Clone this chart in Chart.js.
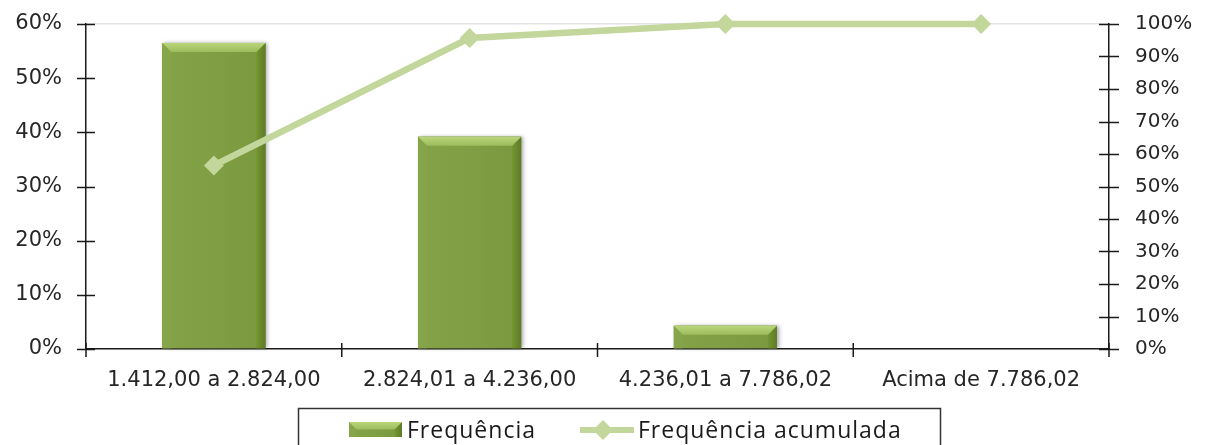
<!DOCTYPE html>
<html>
<head>
<meta charset="utf-8">
<script src="https://cdn.jsdelivr.net/npm/chart.js@4.4.1/dist/chart.umd.min.js"></script>
<style>
html, body { margin: 0; padding: 0; background: #fff; }
#wrap { width: 1213px; height: 445px; position: relative; }
</style>
</head>
<body>
<div id="wrap"><canvas id="chart"></canvas></div>
<script>
// chart data
var categories = ['1.412,00 a 2.824,00', '2.824,01 a 4.236,00', '4.236,01 a 7.786,02', 'Acima de 7.786,02'];
var frequencia = [56.5, 39.2, 4.3, 0];
var acumulada = [56.5, 95.7, 100, 100];
var seriesNames = ['Frequência', 'Frequência acumulada'];

var barColor = '#7f9d42';
var lineColor = '#c3d69b';
var axisColor = '#1a1a1a';
var textColor = '#262626';

// excel-ish bevelled bar
function drawBevelBar(ctx, x0, y0, x1, y1, shadow) {
    var w = x1 - x0, h = y1 - y0;
    if (w <= 0 || h <= 0) return;
    var b = Math.min(9, h / 2, w / 2);
    ctx.save();
    if (shadow) {
        ctx.shadowColor = 'rgba(0,0,0,0.35)';
        ctx.shadowBlur = 4;
        ctx.shadowOffsetX = 2;
        ctx.shadowOffsetY = 0;
    }
    var g = ctx.createLinearGradient(x0, 0, x1, 0);
    g.addColorStop(0, '#84a246');
    g.addColorStop(0.5, '#809e43');
    g.addColorStop(1, '#7a983e');
    ctx.fillStyle = g;
    ctx.fillRect(x0, y0, w, h);
    ctx.restore();

    ctx.save();
    // left bevel
    ctx.fillStyle = '#86a449';
    ctx.beginPath();
    ctx.moveTo(x0, y0); ctx.lineTo(x0 + b, y0 + b); ctx.lineTo(x0 + b, y1); ctx.lineTo(x0, y1);
    ctx.closePath(); ctx.fill();
    // right bevel
    var gr = ctx.createLinearGradient(x1 - b, 0, x1, 0);
    gr.addColorStop(0, '#76952f');
    gr.addColorStop(1, '#5e7b28');
    ctx.fillStyle = gr;
    ctx.beginPath();
    ctx.moveTo(x1, y0); ctx.lineTo(x1 - b, y0 + b); ctx.lineTo(x1 - b, y1); ctx.lineTo(x1, y1);
    ctx.closePath(); ctx.fill();
    // top bevel
    var gt = ctx.createLinearGradient(0, y0, 0, y0 + b);
    gt.addColorStop(0, '#b9d67a');
    gt.addColorStop(1, '#9dbc5c');
    ctx.fillStyle = gt;
    ctx.beginPath();
    ctx.moveTo(x0, y0); ctx.lineTo(x1, y0); ctx.lineTo(x1 - b, y0 + b); ctx.lineTo(x0 + b, y0 + b);
    ctx.closePath(); ctx.fill();
    ctx.restore();
}

var bevelPlugin = {
    id: 'bevel',
    afterDatasetDraw: function(chart, args) {
        if (args.index !== 0) return;
        var ctx = chart.ctx;
        args.meta.data.forEach(function(el) {
            var p = el.getProps(['x', 'y', 'base', 'width'], true);
            drawBevelBar(ctx, p.x - p.width / 2, p.y, p.x + p.width / 2, p.base, true);
        });
    }
};

// tick marks that cross the axis lines
var ticksPlugin = {
    id: 'crossTicks',
    afterDraw: function(chart) {
        var ctx = chart.ctx;
        var area = chart.chartArea;
        var y = chart.scales.y, y1 = chart.scales.y1;
        ctx.save();
        ctx.strokeStyle = axisColor;
        ctx.lineWidth = 1.5;
        ctx.beginPath();
        y.ticks.forEach(function(t) {
            var py = Math.round(y.getPixelForValue(t.value)) + 0.5;
            ctx.moveTo(area.left - 9, py); ctx.lineTo(area.left + 9, py);
        });
        y1.ticks.forEach(function(t) {
            var py = Math.round(y1.getPixelForValue(t.value)) + 0.5;
            ctx.moveTo(area.right - 10, py); ctx.lineTo(area.right + 10, py);
        });
        var n = categories.length;
        for (var i = 0; i <= n; i++) {
            var px = area.left + (area.right - area.left) * i / n;
            ctx.moveTo(px, area.bottom - 6); ctx.lineTo(px, area.bottom + 8);
        }
        ctx.stroke();
        ctx.restore();
    }
};

// boxed legend at the bottom
var legendPlugin = {
    id: 'boxLegend',
    afterDraw: function(chart) {
        var ctx = chart.ctx;
        var ds = chart.data.datasets;
        ctx.save();
        ctx.strokeStyle = '#333';
        ctx.lineWidth = 1.5;
        ctx.strokeRect(298.5, 408.5, 642, 50);

        drawBevelBar(ctx, 349, 422, 402, 437, false);

        ctx.font = '23px "Open Sans"';
        ctx.letterSpacing = '1px';
        ctx.fillStyle = '#1a1a1a';
        ctx.textBaseline = 'alphabetic';
        ctx.fillText(ds[0].label, 407, 438);

        ctx.strokeStyle = lineColor;
        ctx.lineWidth = 6;
        ctx.beginPath();
        ctx.moveTo(580, 430); ctx.lineTo(634, 430);
        ctx.stroke();
        ctx.fillStyle = lineColor;
        ctx.beginPath();
        ctx.moveTo(603, 420); ctx.lineTo(613, 430); ctx.lineTo(603, 440); ctx.lineTo(593, 430);
        ctx.closePath(); ctx.fill();

        ctx.fillStyle = '#1a1a1a';
        ctx.fillText(ds[1].label, 638, 438);
        ctx.restore();
    }
};

var ctx = document.getElementById('chart').getContext('2d');
var chart = new Chart(ctx, {
    type: 'bar',
    data: {
        labels: categories,
        datasets: [
            {
                type: 'bar',
                label: seriesNames[0],
                data: frequencia,
                yAxisID: 'y',
                backgroundColor: barColor,
                borderWidth: 0,
                categoryPercentage: 1,
                barPercentage: 0.403,
                order: 2
            },
            {
                type: 'line',
                label: seriesNames[1],
                data: acumulada,
                yAxisID: 'y1',
                borderColor: lineColor,
                borderWidth: 6.5,
                pointStyle: 'rectRot',
                pointRadius: 10,
                pointBackgroundColor: lineColor,
                pointBorderColor: lineColor,
                pointBorderWidth: 0,
                tension: 0,
                clip: false,
                order: 1
            }
        ]
    },
    options: {
        responsive: true,
        maintainAspectRatio: false,
        animation: false,
        layout: { padding: { left: 0, right: 0, top: 24, bottom: 46 } },
        plugins: {
            legend: { display: false },
            tooltip: { enabled: false }
        },
        scales: {
            x: {
                offset: true,
                grid: { display: false, drawTicks: false },
                border: { display: true, color: axisColor, width: 1.5 },
                ticks: {
                    color: textColor,
                    font: { family: '"DejaVu Sans"', size: 21 },
                    padding: 19,
                    maxRotation: 0
                },
                afterFit: function(scale) {
                    scale.height = 50;
                    scale.paddingLeft = 0;
                    scale.paddingRight = 0;
                }
            },
            y: {
                position: 'left',
                min: 0,
                max: 60,
                grid: {
                    drawTicks: false,
                    color: function(c) { return c.tick && c.tick.value === 60 ? '#e3e3e3' : 'transparent'; },
                    lineWidth: 1.5
                },
                border: { display: true, color: axisColor, width: 1.5 },
                ticks: {
                    stepSize: 10,
                    color: textColor,
                    font: { family: '"DejaVu Sans"', size: 21 },
                    padding: 24,
                    callback: function(v) { return v + '%'; }
                },
                afterFit: function(scale) {
                    scale.width = 86;
                    scale.paddingTop = 0;
                    scale.paddingBottom = 0;
                }
            },
            y1: {
                position: 'right',
                min: 0,
                max: 100,
                grid: { display: false, drawOnChartArea: false, drawTicks: false },
                border: { display: true, color: axisColor, width: 1.5 },
                ticks: {
                    stepSize: 10,
                    color: textColor,
                    font: { family: '"DejaVu Sans"', size: 20 },
                    padding: 26,
                    callback: function(v) { return v + '%'; }
                },
                afterFit: function(scale) {
                    scale.width = 104;
                    scale.paddingTop = 0;
                    scale.paddingBottom = 0;
                }
            }
        }
    },
    plugins: [bevelPlugin, ticksPlugin, legendPlugin]
});
</script>
</body>
</html>
